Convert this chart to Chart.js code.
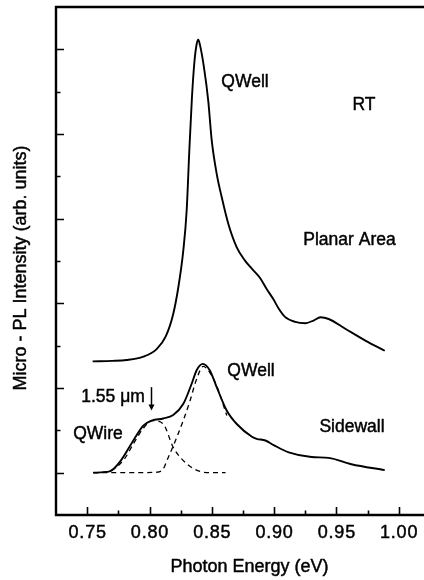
<!DOCTYPE html>
<html><head><meta charset="utf-8">
<script src="https://cdn.jsdelivr.net/npm/chart.js@4.4.1/dist/chart.umd.min.js"></script>
<style>html,body{margin:0;padding:0;background:#fff;}canvas{display:block;}</style>
</head><body>
<canvas id="c" width="424" height="580"></canvas>
<script>
// Planar area spectrum (RT)
const planarEnergy    = [0.7543,0.7700,0.7816,0.7950,0.8057,0.8130,0.8190,0.8231,0.8271,0.8298,0.8319,0.8340,0.8360,0.8378,0.8391,0.8405,0.8437,0.8471,0.8499,0.8539,0.8579,0.8632,0.8699,0.8766,0.8833,0.8887,0.8940,0.8993,0.9040,0.9087,0.9170,0.9250,0.9320,0.9371,0.9438,0.9571,0.9732,0.9888];
const planarIntensity = [2.63,2.64,2.66,2.74,2.92,3.22,3.75,4.38,5.25,6.20,7.60,8.85,9.70,10.12,10.23,10.10,9.57,8.79,7.85,7.06,6.51,5.88,5.33,5.01,4.78,4.60,4.34,4.10,3.86,3.68,3.56,3.53,3.60,3.67,3.63,3.40,3.12,2.88];
// Sidewall spectrum
const sidewallEnergy    = [0.7548,0.7680,0.7763,0.7870,0.7950,0.8017,0.8110,0.8190,0.8270,0.8338,0.8378,0.8427,0.8485,0.8539,0.8619,0.8700,0.8822,0.8860,0.8930,0.8997,0.9117,0.9300,0.9438,0.9620,0.9888];
const sidewallIntensity = [0.00,0.03,0.26,0.76,1.11,1.23,1.28,1.36,1.62,2.10,2.42,2.57,2.41,2.02,1.47,1.15,0.85,0.80,0.76,0.65,0.48,0.37,0.35,0.20,0.06];
// Fitted components (dashed)
const qwireFitEnergy    = [0.7548,0.7650,0.7720,0.7800,0.7870,0.7950,0.8025,0.8110,0.8190,0.8298,0.8405,0.8500,0.8610];
const qwireFitIntensity = [0.00,0.02,0.10,0.33,0.68,1.05,1.23,1.15,0.60,0.21,0.03,0.00,0.00];
const qwellFitEnergy    = [0.7548,0.7900,0.8057,0.8110,0.8150,0.8218,0.8270,0.8325,0.8373,0.8431,0.8485,0.8539,0.8620];
const qwellFitIntensity = [0.00,0.00,0.01,0.09,0.36,0.83,1.23,1.70,2.17,2.51,2.36,2.05,1.35];

const xMajorTicks = [0.75,0.80,0.85,0.90,0.95,1.00];
const xTickLabels = ['0.75','0.80','0.85','0.90','0.95','1.00'];
const xMinorTicks = [0.775,0.825,0.875,0.925,0.975];
const yMajorTicks = [0,2,4,6,8,10];
const yMinorTicks = [1,3,5,7,9];

const pts = (xs, ys) => xs.map((x, i) => ({x: x, y: ys[i]}));
const FONT = '"Liberation Sans", Arial, sans-serif';

function txt(ctx, s, x, y) {
  ctx.strokeText(s, x, y);
  ctx.fillText(s, x, y);
}

const decor = {
  id: 'decor',
  afterDatasetsDraw(chart) {
    const ctx = chart.ctx, a = chart.chartArea, sx = chart.scales.x, sy = chart.scales.y;
    ctx.save();
    ctx.strokeStyle = '#000'; ctx.fillStyle = '#000';
    // ticks (inward)
    ctx.lineWidth = 1.6;
    ctx.beginPath();
    xMajorTicks.forEach(v => { const p = Math.round(sx.getPixelForValue(v)) + 0.5; ctx.moveTo(p, a.bottom); ctx.lineTo(p, a.bottom - 8); });
    xMinorTicks.forEach(v => { const p = Math.round(sx.getPixelForValue(v)) + 0.5; ctx.moveTo(p, a.bottom); ctx.lineTo(p, a.bottom - 4.5); });
    yMajorTicks.forEach(v => { const p = Math.round(sy.getPixelForValue(v)) + 0.5; ctx.moveTo(a.left, p); ctx.lineTo(a.left + 8, p); });
    yMinorTicks.forEach(v => { const p = Math.round(sy.getPixelForValue(v)) + 0.5; ctx.moveTo(a.left, p); ctx.lineTo(a.left + 4.5, p); });
    ctx.stroke();
    // axis lines + top line
    ctx.lineWidth = 2.4;
    ctx.beginPath();
    ctx.moveTo(a.left, a.top); ctx.lineTo(a.right, a.top);
    ctx.moveTo(a.left, a.top - 1.2); ctx.lineTo(a.left, a.bottom);
    ctx.moveTo(a.left - 1.2, a.bottom); ctx.lineTo(a.right, a.bottom);
    ctx.stroke();
    // text
    ctx.lineWidth = 0.45;
    ctx.lineJoin = 'round';
    ctx.textAlign = 'center'; ctx.textBaseline = 'middle';
    ctx.font = '18px ' + FONT;
    if ('letterSpacing' in ctx) ctx.letterSpacing = '0.8px';
    xMajorTicks.forEach((v, i) => txt(ctx, xTickLabels[i], sx.getPixelForValue(v) + 0.4, 533));
    if ('letterSpacing' in ctx) ctx.letterSpacing = '0px';
    ctx.font = '18px ' + FONT;
    txt(ctx, 'Photon Energy (eV)', 249.5, 567);
    ctx.save();
    ctx.translate(21, 268); ctx.rotate(-Math.PI / 2);
    ctx.font = '18px ' + FONT;
    txt(ctx, 'Micro - PL Intensity (arb. units)', 0, 0);
    ctx.restore();
    // annotations
    ctx.font = '17.5px ' + FONT;
    txt(ctx, 'QWell', 245, 82);
    txt(ctx, 'RT', 364, 105);
    txt(ctx, 'Planar Area', 349.5, 240);
    txt(ctx, 'QWell', 251, 371);
    txt(ctx, 'Sidewall', 352, 427.5);
    txt(ctx, 'QWire', 98, 434);
    txt(ctx, '1.55 \u03bcm', 113, 397);
    // arrow
    const ax = Math.round(sx.getPixelForValue(0.8009)) + 0.5, ay1 = sy.getPixelForValue(2.02), ay2 = sy.getPixelForValue(1.47);
    ctx.lineWidth = 1.5;
    ctx.beginPath(); ctx.moveTo(ax, ay1); ctx.lineTo(ax, ay2 - 4); ctx.stroke();
    ctx.beginPath(); ctx.moveTo(ax - 3, ay2 - 6); ctx.lineTo(ax + 3, ay2 - 6); ctx.lineTo(ax, ay2); ctx.closePath(); ctx.fill();
    ctx.restore();
  }
};

const solid = {borderColor: '#000', borderWidth: 1.9, pointRadius: 0, fill: false, cubicInterpolationMode: 'monotone'};
const dashed = {borderColor: '#000', borderWidth: 1.3, borderDash: [5, 4], pointRadius: 0, fill: false, cubicInterpolationMode: 'monotone'};

new Chart(document.getElementById('c'), {
  type: 'line',
  data: {
    datasets: [
      Object.assign({label: 'Planar Area', data: pts(planarEnergy, planarIntensity)}, solid),
      Object.assign({label: 'Sidewall', data: pts(sidewallEnergy, sidewallIntensity)}, solid),
      Object.assign({label: 'QWire fit', data: pts(qwireFitEnergy, qwireFitIntensity)}, dashed),
      Object.assign({label: 'QWell fit', data: pts(qwellFitEnergy, qwellFitIntensity)}, dashed)
    ]
  },
  options: {
    responsive: false, animation: false, devicePixelRatio: 1,
    layout: {padding: {left: 56, right: 0, top: 7, bottom: 65}},
    plugins: {legend: {display: false}, tooltip: {enabled: false}},
    scales: {
      x: {type: 'linear', min: 0.7249, max: 1.0203, display: false},
      y: {type: 'linear', min: -1.0, max: 11.0, display: false}
    }
  },
  plugins: [decor]
});
</script>
</body></html>
